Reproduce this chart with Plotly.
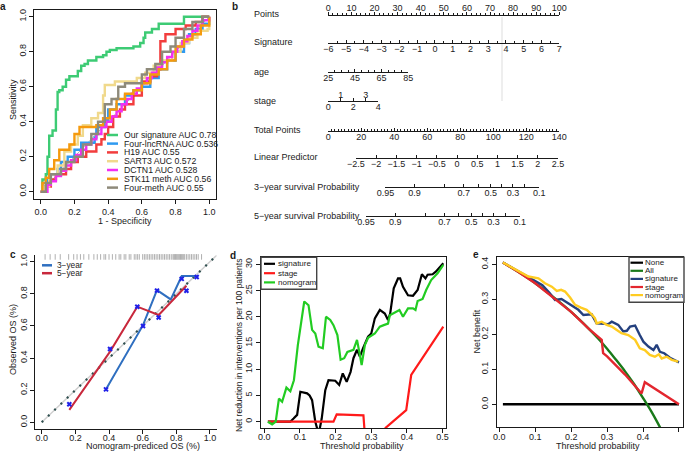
import math
import plotly.graph_objects as go

W, H = 685, 452
FONT = "Liberation Sans, Arial, Helvetica, sans-serif"
INK = "#1a1a1a"

def X(px):
    return px / W

def Y(py):
    return 1 - py / H

# ======================= DATA =======================
# ---- a: ROC curves (1 - specificity, sensitivity) ----
roc_labels = ["Our signature AUC 0.78", "Four-lncRNA AUC 0.536", "H19 AUC 0.55",
              "SART3 AUC 0.572", "DCTN1 AUC 0.528", "STK11 meth AUC 0.56", "Four-meth AUC 0.55"]
sig_fpr = [0, 0.01, 0.03, 0.04, 0.05, 0.07, 0.09, 0.10, 0.11, 0.13, 0.15, 0.17, 0.20, 0.22, 0.24,
           0.26, 0.28, 0.31, 0.33, 0.37, 0.39, 0.41, 0.45, 0.55, 0.59, 0.61, 0.62, 0.64, 0.66, 0.70, 0.85, 0.85, 1.0]
sig_tpr = [0, 0.07, 0.10, 0.20, 0.32, 0.35, 0.47, 0.57, 0.58, 0.60, 0.64, 0.66, 0.66, 0.69, 0.72,
           0.73, 0.75, 0.75, 0.77, 0.78, 0.80, 0.81, 0.82, 0.83, 0.85, 0.88, 0.91, 0.91, 0.93, 0.96, 0.98, 1.0, 1.0]
lnc_fpr = [0, 0.02, 0.04, 0.06, 0.10, 0.12, 0.16, 0.20, 0.24, 0.32, 0.33, 0.38, 0.40, 0.45, 0.50, 0.55,
           0.60, 0.65, 0.70, 0.75, 0.80, 0.85, 0.88, 0.92, 0.96, 1.0]
lnc_tpr = [0, 0.03, 0.07, 0.10, 0.13, 0.17, 0.20, 0.24, 0.28, 0.31, 0.37, 0.41, 0.47, 0.50, 0.55, 0.58,
           0.60, 0.65, 0.70, 0.75, 0.80, 0.85, 0.90, 0.93, 0.96, 1.0]
h19_fpr = [0, 0.03, 0.06, 0.09, 0.12, 0.15, 0.18, 0.22, 0.27, 0.33, 0.36, 0.38, 0.40, 0.43, 0.47, 0.50,
           0.55, 0.60, 0.65, 0.69, 0.71, 0.74, 0.80, 0.86, 0.92, 0.96, 1.0]
h19_tpr = [0, 0.03, 0.07, 0.10, 0.10, 0.13, 0.17, 0.20, 0.23, 0.27, 0.30, 0.33, 0.37, 0.43, 0.47, 0.50,
           0.55, 0.63, 0.66, 0.70, 0.86, 0.90, 0.93, 0.95, 0.97, 1.0, 1.0]
sart_fpr = [0, 0.02, 0.05, 0.10, 0.14, 0.18, 0.22, 0.25, 0.30, 0.34, 0.37, 0.38, 0.44, 0.50, 0.57, 0.62,
            0.67, 0.72, 0.78, 0.83, 0.88, 0.93, 0.99, 1.0]
sart_tpr = [0, 0.03, 0.10, 0.15, 0.23, 0.27, 0.32, 0.38, 0.42, 0.45, 0.55, 0.61, 0.63, 0.63, 0.65, 0.68,
            0.72, 0.75, 0.80, 0.85, 0.88, 0.92, 0.93, 1.0]
dct_fpr = [0, 0.04, 0.06, 0.09, 0.12, 0.15, 0.18, 0.21, 0.24, 0.27, 0.30, 0.33, 0.36, 0.39, 0.42, 0.45,
           0.48, 0.51, 0.54, 0.57, 0.60, 0.63, 0.66, 0.69, 0.72, 0.75, 0.78, 0.81, 0.84, 0.87, 0.90, 0.93, 0.96, 1.0]
dct_tpr = [0, 0.04, 0.06, 0.09, 0.12, 0.15, 0.18, 0.21, 0.24, 0.27, 0.30, 0.33, 0.37, 0.40, 0.43, 0.46,
           0.50, 0.53, 0.56, 0.59, 0.62, 0.65, 0.68, 0.71, 0.74, 0.77, 0.80, 0.83, 0.86, 0.89, 0.92, 0.95, 0.98, 1.0]
stk_fpr = [0, 0.01, 0.03, 0.05, 0.08, 0.11, 0.17, 0.20, 0.23, 0.30, 0.33, 0.37, 0.41, 0.45, 0.50, 0.55,
           0.60, 0.65, 0.70, 0.75, 0.80, 0.85, 0.90, 0.95, 1.0]
stk_tpr = [0, 0.05, 0.08, 0.13, 0.18, 0.24, 0.27, 0.33, 0.37, 0.37, 0.38, 0.42, 0.47, 0.53, 0.56, 0.58,
           0.62, 0.67, 0.70, 0.75, 0.83, 0.87, 0.90, 0.95, 1.0]
fm_fpr = [0, 0.03, 0.06, 0.10, 0.12, 0.15, 0.20, 0.25, 0.30, 0.34, 0.38, 0.42, 0.46, 0.50, 0.55, 0.60,
          0.63, 0.68, 0.72, 0.77, 0.80, 0.85, 0.90, 0.96, 1.0]
fm_tpr = [0, 0.05, 0.10, 0.10, 0.13, 0.17, 0.20, 0.27, 0.33, 0.40, 0.50, 0.53, 0.60, 0.62, 0.62, 0.67,
          0.70, 0.73, 0.80, 0.83, 0.88, 0.93, 0.97, 1.0, 1.0]
roc_fpr = [sig_fpr, lnc_fpr, h19_fpr, sart_fpr, dct_fpr, stk_fpr, fm_fpr]
roc_tpr = [sig_tpr, lnc_tpr, h19_tpr, sart_tpr, dct_tpr, stk_tpr, fm_tpr]
roc_ticks = [0.0, 0.2, 0.4, 0.6, 0.8, 1.0]

# ---- b: nomogram scales ----
nomo_rows = ["Points", "Signature", "age", "stage", "Total Points", "Linear Predictor",
             "3\u2212year survival Probability", "5\u2212year survival Probability"]
points_ticks = [0, 10, 20, 30, 40, 50, 60, 70, 80, 90, 100]
signature_ticks = [-6, -5, -4, -3, -2, -1, 0, 1, 2, 3, 4, 5, 6, 7]
age_ticks = [25, 45, 65, 85]
stage_top_ticks = [1, 3]
stage_bottom_ticks = [0, 2, 4]
total_ticks = [0, 20, 40, 60, 80, 100, 120, 140]
lp_ticks = [-2.5, -2, -1.5, -1, -0.5, 0, 0.5, 1, 1.5, 2, 2.5]
surv_ticks = [0.95, 0.9, 0.8, 0.7, 0.6, 0.5, 0.4, 0.3, 0.2, 0.1]
surv_labels = ["0.95", "0.9", "", "0.7", "", "0.5", "", "0.3", "", "0.1"]
age_max_points = 34.6      # points given to age 85
stage_max_points = 21.6    # points given to stage 4
lp_shift_3y = 1.20         # ln(-ln S0) offset, 3-year
lp_shift_5y = 0.72         # 5-year
marker_points = 75.2       # grey reference line on the Points scale

# ---- c: calibration ----
cal3_pred = [0.382, 0.602, 0.685, 0.767, 0.832, 0.921]
cal3_obs = [0.205, 0.605, 0.823, 0.765, 0.911, 0.911]
cal3_bc_pred = [0.382, 0.602, 0.685, 0.832, 0.921]
cal3_bc_obs = [0.205, 0.600, 0.820, 0.893, 0.905]
cal5_pred = [0.164, 0.406, 0.568, 0.695, 0.860]
cal5_obs = [0.077, 0.440, 0.720, 0.668, 0.850]
cal5_bc_obs = [0.112, 0.456, 0.720, 0.653, 0.819]
rug_pred = [0.02, 0.05, 0.08, 0.11, 0.16, 0.19, 0.21, 0.23, 0.25, 0.28, 0.31, 0.33, 0.35, 0.37, 0.38,
            0.40, 0.42, 0.44, 0.46, 0.47, 0.49, 0.50, 0.52, 0.53, 0.55, 0.56, 0.57, 0.58, 0.60, 0.61,
            0.62, 0.63, 0.64, 0.65, 0.66, 0.67, 0.68, 0.69, 0.70, 0.71, 0.72, 0.73, 0.74, 0.75, 0.76,
            0.77, 0.78, 0.785, 0.79, 0.795, 0.80, 0.805, 0.81, 0.815, 0.82, 0.825, 0.83, 0.835, 0.84,
            0.845, 0.85, 0.86, 0.87, 0.88, 0.89, 0.90, 0.91, 0.92, 0.93, 0.95]
cal_ticks = [0.0, 0.2, 0.4, 0.6, 0.8, 1.0]

# ---- d: net reduction in interventions ----
d_sig_x = [0.01, 0.073, 0.082, 0.092, 0.101, 0.12, 0.127, 0.134, 0.143, 0.149, 0.155, 0.161, 0.171, 0.18,
           0.199, 0.21, 0.22, 0.231, 0.242, 0.25, 0.26, 0.268, 0.277, 0.291, 0.30, 0.31, 0.324, 0.338,
           0.347, 0.353, 0.363, 0.375, 0.381, 0.389, 0.403, 0.417, 0.43, 0.442, 0.452, 0.458, 0.472, 0.481, 0.502]
d_sig_y = [0, 0, 0.6, 1.3, 5.7, 5.4, 5.0, 4.1, 0, -1.5, -1.5, 0.6, 6.0, 7.9,
           7.8, 7.0, 9.2, 7.6, 9.5, 12.1, 13.7, 12.4, 14.0, 16.2, 16.8, 19.7, 21.3, 20.6,
           19.4, 20.6, 25.4, 27.3, 27.3, 25.7, 24.1, 24.0, 25.1, 28.1, 27.3, 28.0, 28.1, 28.6, 30.2]
d_stage_x = [0.01, 0.194, 0.203, 0.278, 0.29, 0.32, 0.34, 0.398, 0.412, 0.502]
d_stage_y = [0, 0, 1.4, 1.2, -10, -6, -1.2, 2.2, 8.9, 18.1]
d_nom_x = [0.01, 0.022, 0.032, 0.041, 0.05, 0.062, 0.073, 0.083, 0.094, 0.103, 0.112, 0.124, 0.134, 0.143,
           0.152, 0.164, 0.173, 0.185, 0.194, 0.205, 0.214, 0.224, 0.233, 0.25, 0.26, 0.268, 0.273,
           0.282, 0.291, 0.31, 0.324, 0.335, 0.347, 0.352, 0.365, 0.379, 0.389, 0.403, 0.417, 0.424,
           0.43, 0.444, 0.454, 0.468, 0.486, 0.502]
d_nom_y = [0, -0.5, 0, 4.4, 3.8, 6.5, 5.8, 7.9, 14.6, 18.4, 22.9, 22.2, 17.5, 16.8,
           14.3, 14.0, 20.0, 19.4, 18.4, 16.5, 11.8, 12.1, 13.3, 13.7, 15.6, 12.7, 10.8,
           14.6, 16.0, 16.8, 18.1, 18.4, 18.7, 20.3, 20.8, 21.3, 20.0, 21.6, 21.6, 21.3,
           23.0, 23.4, 25.1, 27.0, 28.3, 29.9]
d_labels = ["signature", "stage", "nomogram"]

# ---- e: decision curves ----
e_none_x = [0.01, 0.5]
e_none_y = [0.0, 0.0]
e_all_x = [0.01, 0.05, 0.10, 0.15, 0.20, 0.25, 0.275, 0.30, 0.325, 0.35, 0.375, 0.40, 0.425, 0.45]
e_all_y = [0.405, 0.380, 0.346, 0.307, 0.264, 0.215, 0.188, 0.159, 0.127, 0.094, 0.058, 0.018, -0.024, -0.071]
e_sig_x = [0.01, 0.05, 0.10, 0.12, 0.14, 0.155, 0.173, 0.197, 0.22, 0.234, 0.257, 0.271, 0.303, 0.313,
           0.331, 0.345, 0.355, 0.364, 0.378, 0.391, 0.401, 0.415, 0.429, 0.438, 0.447, 0.459, 0.475, 0.496, 0.50]
e_sig_y = [0.405, 0.381, 0.350, 0.340, 0.318, 0.298, 0.301, 0.284, 0.270, 0.255, 0.257, 0.231, 0.229, 0.236,
           0.227, 0.208, 0.210, 0.222, 0.225, 0.198, 0.179, 0.165, 0.155, 0.170, 0.150, 0.146, 0.133, 0.122, 0.120]
e_stage_x = [0.01, 0.05, 0.10, 0.15, 0.20, 0.25, 0.28, 0.285, 0.289, 0.30, 0.35, 0.396, 0.405, 0.50]
e_stage_y = [0.405, 0.380, 0.346, 0.305, 0.264, 0.215, 0.190, 0.184, 0.146, 0.137, 0.085, 0.031, 0.063, 0.0]
e_nom_x = [0.01, 0.05, 0.081, 0.109, 0.127, 0.146, 0.16, 0.172, 0.183, 0.197, 0.211, 0.227, 0.243, 0.257,
           0.266, 0.271, 0.285, 0.299, 0.313, 0.327, 0.34, 0.359, 0.378, 0.391, 0.405, 0.419, 0.433,
           0.444, 0.452, 0.466, 0.48, 0.498]
e_nom_y = [0.405, 0.383, 0.365, 0.360, 0.346, 0.336, 0.324, 0.327, 0.322, 0.305, 0.284, 0.276, 0.270, 0.257,
           0.246, 0.231, 0.236, 0.227, 0.222, 0.212, 0.203, 0.198, 0.184, 0.160, 0.155, 0.141, 0.136,
           0.143, 0.131, 0.136, 0.127, 0.122]
e_labels = ["None", "All", "signature", "stage", "nomogram"]
thr_ticks = [0.0, 0.1, 0.2, 0.3, 0.4, 0.5]

# ======================= STYLES =======================
roc_colors = ["#3DCB74", "#2F9AF0", "#F23D3D", "#F0D98C", "#F22EF2", "#F59A0D", "#8E8A7A"]
d_colors = ["#000000", "#FF1A1A", "#22CC22"]
e_colors = ["#000000", "#1A7A1A", "#24407E", "#E3262E", "#FFCC22"]
CAL3 = "#2F6FC0"
CAL5 = "#C8283C"

fig = go.Figure()
annotations = []
shapes = []


def txt(px, py, s, size=9, xanchor="left", angle=0, bold=False, color=INK):
    annotations.append(dict(x=X(px), y=Y(py), xref="paper", yref="paper", text=("<b>%s</b>" % s) if bold else s,
                            showarrow=False, xanchor=xanchor, yanchor="middle", textangle=angle,
                            font=dict(size=size, family=FONT, color=color)))


def key(px0, px1, py, color, width=2.5):
    shapes.append(dict(type="line", xref="paper", yref="paper", x0=X(px0), x1=X(px1), y0=Y(py), y1=Y(py),
                       line=dict(color=color, width=width)))


def box_axis(dom_x, dom_y, rng_x, rng_y, anchor_x, anchor_y, xt, yt, xfmt, yfmt, mirror=True,
             xstand=0, ystand=0):
    ax = dict(domain=[X(dom_x[0]), X(dom_x[1])], range=rng_x, anchor=anchor_y, showline=True, mirror=mirror,
              linecolor=INK, linewidth=1, ticks="outside", ticklen=4, tickcolor=INK, tickvals=xt,
              tickformat=xfmt, showgrid=False, zeroline=False, automargin=False, ticklabelstandoff=xstand,
              tickfont=dict(size=9, family=FONT, color=INK))
    ay = dict(domain=[Y(dom_y[1]), Y(dom_y[0])], range=rng_y, anchor=anchor_x, showline=True, mirror=mirror,
              linecolor=INK, linewidth=1, ticks="outside", ticklen=4, tickcolor=INK, tickvals=yt,
              tickformat=yfmt, tickangle=-90, showgrid=False, zeroline=False, automargin=False,
              ticklabelstandoff=ystand, tickfont=dict(size=9, family=FONT, color=INK))
    return ax, ay

# ----------------------- panel a -----------------------
xa, ya = box_axis((34, 216), (9.7, 198.7), [-0.04, 1.04], [-0.04, 1.04], "x", "y",
                  roc_ticks, roc_ticks, ".1f", ".1f", xstand=0, ystand=-1)
fig.add_trace(go.Scatter(x=[0, 1], y=[0, 1], mode="lines", line=dict(color="#B0B0B0", width=1),
                         xaxis="x", yaxis="y", hoverinfo="skip"))
for i in range(len(roc_labels)):
    fig.add_trace(go.Scatter(x=roc_fpr[i], y=roc_tpr[i], mode="lines", line_shape="hv",
                             line=dict(color=roc_colors[i], width=2.4), xaxis="x", yaxis="y", name=roc_labels[i]))
leg_a_y = [135, 143.6, 152.4, 161.2, 170, 178.8, 187.6]
for i, lab in enumerate(roc_labels):
    key(107, 118, leg_a_y[i], roc_colors[i], 2.5)
    txt(122, leg_a_y[i], lab, size=8.7)
txt(13, 100, "Sensitivity", size=9, xanchor="center", angle=-90)
txt(125, 220.5, "1 - Specificity", size=9, xanchor="center")
txt(3, 6, "a", size=10, xanchor="center", bold=True)

# ----------------------- panel b -----------------------
PX0, PX1 = 328.3, 559.3                      # Points 0 .. 100
def pts_px(p):
    return PX0 + p / 100.0 * (PX1 - PX0)

LPX0, LPX1 = 356.0, 558.0                    # linear predictor -2.5 .. 2.5
def lp_px(v):
    return LPX0 + (v - lp_ticks[0]) / (lp_ticks[-1] - lp_ticks[0]) * (LPX1 - LPX0)

rows_y = [15, 43, 72, 101, 131, 158, 187, 216]
axis_defs = {}


def nomo_axis(name, dom_px, rng, ypos, side, tickvals, ticktext=None, ticks="inside", minor=None, standoff=-3):
    ax = dict(domain=[X(dom_px[0]), X(dom_px[1])], range=rng, anchor="free", position=Y(ypos), side=side,
              showline=True, linecolor=INK, linewidth=1, ticks=ticks, ticklen=3, tickcolor=INK, tickwidth=1,
              tickvals=tickvals, showgrid=False, zeroline=False, ticklabelstandoff=standoff, automargin=False,
              tickfont=dict(size=9, family=FONT, color="#222"))
    if ticktext is not None:
        ax["ticktext"] = ticktext
    if minor is not None:
        ax["minor"] = dict(ticks=ticks, ticklen=2, dtick=minor, tickcolor=INK, tickwidth=1, showgrid=False)
    axis_defs[name] = ax
    fig.add_trace(go.Scatter(x=[rng[0]], y=[ypos], mode="markers", marker=dict(opacity=0, size=1),
                             xaxis=name.replace("axis", ""), yaxis="y2", hoverinfo="skip"))

nomo_axis("xaxis2", (PX0, PX1), [0, 100], rows_y[0], "top", points_ticks, ticks="outside", minor=2, standoff=-3)
nomo_axis("xaxis3", (PX0, PX1), [signature_ticks[0], signature_ticks[-1]], rows_y[1], "bottom",
          signature_ticks, minor=0.5)
nomo_axis("xaxis4", (PX0, pts_px(age_max_points)), [age_ticks[0], age_ticks[-1]], rows_y[2], "bottom",
          age_ticks, minor=5)
nomo_axis("xaxis5", (PX0, pts_px(stage_max_points)), [0, 4], rows_y[3], "top", stage_top_ticks,
          ticks="outside", standoff=-4)
nomo_axis("xaxis6", (PX0, pts_px(stage_max_points)), [0, 4], rows_y[3], "bottom", stage_bottom_ticks)
nomo_axis("xaxis7", (PX0, PX1), [total_ticks[0], total_ticks[-1]], rows_y[4], "bottom", total_ticks, minor=2)
nomo_axis("xaxis8", (LPX0, LPX1), [lp_ticks[0], lp_ticks[-1]], rows_y[5], "bottom", lp_ticks)

def surv_lp(s, shift):
    return math.log(-math.log(s)) + shift

for nm, shift, yrow in (("xaxis9", lp_shift_3y, rows_y[6]), ("xaxis10", lp_shift_5y, rows_y[7])):
    tv = [surv_lp(s, shift) for s in surv_ticks]
    nomo_axis(nm, (lp_px(tv[0]), lp_px(tv[-1])), [tv[0], tv[-1]], yrow, "bottom", tv, ticktext=surv_labels)

fig.add_trace(go.Scatter(x=[marker_points, marker_points], y=[rows_y[0] + 2, rows_y[3]], mode="lines",
                         line=dict(color="#DDDDDD", width=1), xaxis="x2", yaxis="y2", hoverinfo="skip"))
for i, lab in enumerate(nomo_rows):
    txt(252, rows_y[i] - 0.5, lab, size=9, color="#222")
txt(235, 6, "b", size=10, xanchor="center", bold=True)

# ----------------------- panel c -----------------------
xc, yc = box_axis((35, 216.7), (255.3, 428.7), [-0.04, 1.04], [-0.04, 1.04], "x11", "y11",
                  cal_ticks, cal_ticks, ".1f", ".1f", mirror=False, xstand=-4, ystand=-1)
fig.add_trace(go.Scatter(x=[0, 1.04], y=[0, 1.04], mode="lines", line=dict(color="#CFCFCF", width=1.5),
                         xaxis="x11", yaxis="y11", hoverinfo="skip"))
fig.add_trace(go.Scatter(x=[0, 1.04], y=[0, 1.04], mode="lines",
                         line=dict(color="#2F4F4F", width=2.2, dash="2px,6.7px"),
                         xaxis="x11", yaxis="y11", hoverinfo="skip"))
fig.add_trace(go.Scatter(x=rug_pred, y=[1.03] * len(rug_pred), mode="markers",
                         marker=dict(symbol="line-ns", size=4, line=dict(color="#B0B0B0", width=1)),
                         xaxis="x11", yaxis="y11", cliponaxis=False, hoverinfo="skip"))
fig.add_trace(go.Scatter(x=cal3_pred, y=cal3_obs, mode="lines", line=dict(color=CAL3, width=2),
                         xaxis="x11", yaxis="y11", name="3-year"))
fig.add_trace(go.Scatter(x=cal5_pred, y=cal5_obs, mode="lines", line=dict(color=CAL5, width=2),
                         xaxis="x11", yaxis="y11", name="5-year"))
fig.add_trace(go.Scatter(x=cal3_bc_pred + cal5_pred, y=cal3_bc_obs + cal5_bc_obs, mode="markers",
                         marker=dict(symbol="x-thin", size=4, line=dict(color="#2020E8", width=2)),
                         xaxis="x11", yaxis="y11", hoverinfo="skip"))
key(42, 52, 265.3, CAL3, 2.5)
txt(55, 265.3, "3\u2212year", size=8.3)
key(42, 52, 273.2, CAL5, 2.5)
txt(55, 273.2, "5\u2212year", size=8.3)
txt(13, 340, "Observed OS (%)", size=9, xanchor="center", angle=-90)
txt(143, 446, "Nomogram-prediced OS (%)", size=9, xanchor="center")
txt(13, 254, "c", size=10, xanchor="center", bold=True)

# ----------------------- panel d -----------------------
xd, yd = box_axis((261, 446), (257.3, 428.3), [-0.0093, 0.5096], [-1.26, 31.33], "x12", "y12",
                  thr_ticks, [0, 5, 10, 15, 20, 25, 30], ".1f", "d", xstand=-4, ystand=0)
for xs, ys, col, nm in ((d_sig_x, d_sig_y, d_colors[0], d_labels[0]),
                        (d_stage_x, d_stage_y, d_colors[1], d_labels[1]),
                        (d_nom_x, d_nom_y, d_colors[2], d_labels[2])):
    fig.add_trace(go.Scatter(x=xs, y=ys, mode="lines", line=dict(color=col, width=2.2),
                             xaxis="x12", yaxis="y12", name=nm))
shapes.append(dict(type="rect", xref="paper", yref="paper", x0=X(261), x1=X(316.7), y0=Y(289.3), y1=Y(257.3),
                   line=dict(color="#444", width=1.4), fillcolor="white", layer="above"))
for i, yy in enumerate([263.8, 273.2, 282.4]):
    key(264, 275, yy, d_colors[i], 2.2)
    txt(275.5, yy, d_labels[i], size=8)
txt(239, 345, "Net reduction in interventions per 100 patients", size=8.5, xanchor="center", angle=-90)
txt(361.5, 446, "Threshold probability", size=9, xanchor="center")
txt(233, 255, "d", size=10, xanchor="center", bold=True)

# ----------------------- panel e -----------------------
xe, ye = box_axis((497.3, 683), (257.3, 427.3), [-0.0056, 0.5113], [-0.0657, 0.42], "x13", "y13",
                  thr_ticks, [0.0, 0.1, 0.2, 0.3, 0.4], ".1f", ".1f", xstand=-3, ystand=1)
for xs, ys, col, nm, shp in ((e_none_x, e_none_y, e_colors[0], e_labels[0], "linear"),
                             (e_all_x, e_all_y, e_colors[1], e_labels[1], "spline"),
                             (e_sig_x, e_sig_y, e_colors[2], e_labels[2], "linear"),
                             (e_stage_x, e_stage_y, e_colors[3], e_labels[3], "linear"),
                             (e_nom_x, e_nom_y, e_colors[4], e_labels[4], "linear")):
    fig.add_trace(go.Scatter(x=xs, y=ys, mode="lines", line=dict(color=col, width=2.4, shape=shp),
                             xaxis="x13", yaxis="y13", name=nm))
shapes.append(dict(type="rect", xref="paper", yref="paper", x0=X(629), x1=X(684), y0=Y(302.3), y1=Y(257.3),
                   line=dict(color="#444", width=1.4), fillcolor="white", layer="above"))
for i, yy in enumerate([262.7, 270.8, 278.9, 287.0, 295.1]):
    key(630.5, 643, yy, e_colors[i], 2.2)
    txt(643.3, yy, e_labels[i], size=8)
txt(476.7, 331.7, "Net benefit", size=9, xanchor="center", angle=-90)
txt(598.3, 446, "Threshold probability", size=9, xanchor="center")
txt(475.5, 254, "e", size=10, xanchor="center", bold=True)

layout = dict(template="none", width=W, height=H, margin=dict(l=0, r=0, t=0, b=0, autoexpand=False),
              paper_bgcolor="white", plot_bgcolor="rgba(0,0,0,0)", showlegend=False,
              font=dict(family=FONT, size=9, color=INK),
              xaxis=xa, yaxis=ya, xaxis11=xc, yaxis11=yc, xaxis12=xd, yaxis12=yd, xaxis13=xe, yaxis13=ye,
              yaxis2=dict(domain=[0, 1], range=[H, 0], anchor="x2", visible=False, fixedrange=True,
                          automargin=False),
              annotations=annotations, shapes=shapes)
layout.update(axis_defs)
fig.update_layout(**layout)
fig.write_html("out.html", config={"displayModeBar": False, "staticPlot": True},
               post_script="document.body.style.margin='0';document.body.style.overflow='hidden';")
